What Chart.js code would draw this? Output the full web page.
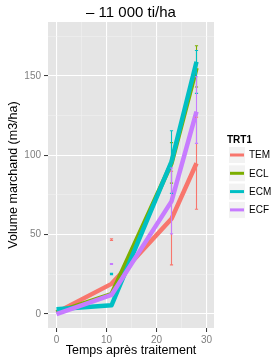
<!DOCTYPE html>
<html><head><meta charset="utf-8">
<script src="https://cdn.jsdelivr.net/npm/chart.js@4/dist/chart.umd.min.js"></script>
<style>html,body{margin:0;padding:0;background:#fff}canvas{display:block}</style>
</head><body>
<canvas id="c" width="274" height="358"></canvas>
<script>
const chartTitle = "– 11 000 ti/ha";
const xTitle = "Temps après traitement";
const yTitle = "Volume marchand (m3/ha)";
const legendTitle = "TRT1";
const treatments = ["TEM", "ECL", "ECM", "ECF"];
const colors = ["#F8766D", "#7CAE00", "#00BFC4", "#C77CFF"];

const times = [0, 11, 23, 28];
const TEM = [1, 19, 60, 95];
const ECL = [1, 12.5, 95, 155];
const ECM = [3, 5.5, 96, 159];
const ECF = [0, 12, 71, 127.5];

const errTimes = [11, 23, 28];
const TEM_lo = [46.4, 31, 66];
const TEM_hi = [47.4, 90, 124];
const ECL_lo = [null, 82.5, 143];
const ECL_hi = [null, 108, 169];
const ECM_lo = [24.8, 76, 139];
const ECM_hi = [25.6, 115.5, 166];
const ECF_lo = [31.2, 50.5, 107.5];
const ECF_hi = [31.8, 92, 149.5];

const xTicks = [0, 10, 20, 30];
const yTicks = [0, 50, 100, 150];

const series = [TEM, ECL, ECM, ECF];
const lows = [TEM_lo, ECL_lo, ECM_lo, ECF_lo];
const highs = [TEM_hi, ECL_hi, ECM_hi, ECF_hi];

const FONT = "'Liberation Sans', Arial, sans-serif";
Chart.defaults.font.family = FONT;

const datasets = treatments.map((name, i) => ({
  label: name,
  data: times.map((t, j) => ({x: t, y: series[i][j]})),
  borderColor: colors[i],
  backgroundColor: colors[i],
  borderWidth: 4.5,
  pointRadius: 0,
  tension: 0,
  order: treatments.length - 1 - i,
  borderCapStyle: 'butt',
  borderJoinStyle: 'round'
}));

const errPlugin = {
  id: 'errbars',
  afterDatasetsDraw(chart) {
    const {ctx, chartArea: a} = chart;
    const xs = chart.scales.x, ys = chart.scales.y;
    ctx.save();
    ctx.beginPath(); ctx.rect(a.left, a.top, a.right - a.left, a.bottom - a.top); ctx.clip();
    treatments.forEach((n, i) => {
      ctx.strokeStyle = colors[i];
      ctx.lineWidth = 1.1;
      errTimes.forEach((t, j) => {
        const lo = lows[i][j], hi = highs[i][j];
        if (lo == null) return;
        const px = xs.getPixelForValue(t);
        const p1 = ys.getPixelForValue(lo), p2 = ys.getPixelForValue(hi);
        ctx.beginPath();
        ctx.moveTo(px, p1); ctx.lineTo(px, p2);
        ctx.moveTo(px - 1.6, p1); ctx.lineTo(px + 1.6, p1);
        ctx.moveTo(px - 1.6, p2); ctx.lineTo(px + 1.6, p2);
        ctx.stroke();
      });
    });
    ctx.restore();
  }
};

const panelPlugin = {
  id: 'panelbg',
  beforeDraw(chart) {
    const {ctx, chartArea: a} = chart;
    ctx.save();
    ctx.fillStyle = '#E5E5E5';
    ctx.fillRect(a.left, a.top, a.right - a.left, a.bottom - a.top);
    ctx.restore();
  },
  afterDraw(chart) {
    const {ctx, chartArea: a} = chart;
    ctx.save();
    // title
    ctx.fillStyle = '#000';
    ctx.font = `15px ${FONT}`;
    ctx.textAlign = 'center'; ctx.textBaseline = 'middle';
    ctx.fillText(chartTitle, (a.left + a.right) / 2, 13);
    // x title
    ctx.font = `12.5px ${FONT}`;
    ctx.fillText(xTitle, (a.left + a.right) / 2, 351);
    // y title
    ctx.save();
    ctx.translate(14, (a.top + a.bottom) / 2);
    ctx.rotate(-Math.PI / 2);
    ctx.fillText(yTitle, 0, 0);
    ctx.restore();
    // legend
    ctx.textAlign = 'left';
    ctx.font = `bold 10px ${FONT}`;
    ctx.fillText(legendTitle, 227, 140);
    treatments.forEach((n, i) => {
      const cy = 155 + i * 18.3;
      ctx.fillStyle = '#F2F2F2';
      ctx.fillRect(228.5, cy - 8.5, 17, 17);
      ctx.strokeStyle = '#FFFFFF'; ctx.lineWidth = 1;
      ctx.strokeRect(228.5, cy - 8.5, 17, 17);
      ctx.strokeStyle = colors[i]; ctx.lineWidth = 3;
      ctx.beginPath(); ctx.moveTo(230, cy); ctx.lineTo(244, cy); ctx.stroke();
      ctx.fillStyle = '#000';
      ctx.font = `10px ${FONT}`;
      ctx.fillText(n, 249, cy + 0.5);
    });
    ctx.restore();
  }
};

function gridColor(major) {
  return ctx => {
    const v = ctx.tick ? ctx.tick.value : null;
    return major.includes(v) ? '#FFFFFF' : '#F2F2F2';
  };
}
function gridWidth(major) {
  return ctx => {
    const v = ctx.tick ? ctx.tick.value : null;
    return major.includes(v) ? 1.1 : 0.5;
  };
}
function tickColor(major) {
  return ctx => {
    const v = ctx.tick ? ctx.tick.value : null;
    return major.includes(v) ? '#333333' : 'rgba(0,0,0,0)';
  };
}

new Chart(document.getElementById('c'), {
  type: 'line',
  data: {datasets},
  plugins: [panelPlugin, errPlugin],
  options: {
    responsive: false,
    animation: false,
    devicePixelRatio: 1,
    layout: {padding: {left: 0, right: 60, top: 22, bottom: 0}},
    plugins: {legend: {display: false}, tooltip: {enabled: false}, title: {display: false}},
    scales: {
      x: {
        type: 'linear',
        min: -1.7, max: 31.5,
        border: {display: false},
        grid: {color: gridColor(xTicks), lineWidth: gridWidth(xTicks), tickColor: tickColor(xTicks), tickLength: 4, tickWidth: 1},
        ticks: {
          stepSize: 5, includeBounds: false, autoSkip: false, maxRotation: 0,
          color: '#7F7F7F', font: {size: 10}, padding: 2,
          callback: v => xTicks.includes(v) ? String(v) : ''
        },
        afterFit: s => { s.height = 30; }
      },
      y: {
        type: 'linear',
        min: -8.8, max: 184,
        border: {display: false},
        grid: {color: gridColor(yTicks), lineWidth: gridWidth(yTicks), tickColor: tickColor(yTicks), tickLength: 4, tickWidth: 1},
        ticks: {
          stepSize: 25, includeBounds: false, autoSkip: false,
          color: '#7F7F7F', font: {size: 10}, padding: 3,
          callback: v => yTicks.includes(v) ? String(v) : ''
        },
        afterFit: s => { s.width = 48; }
      }
    }
  }
});
</script>
</body></html>
